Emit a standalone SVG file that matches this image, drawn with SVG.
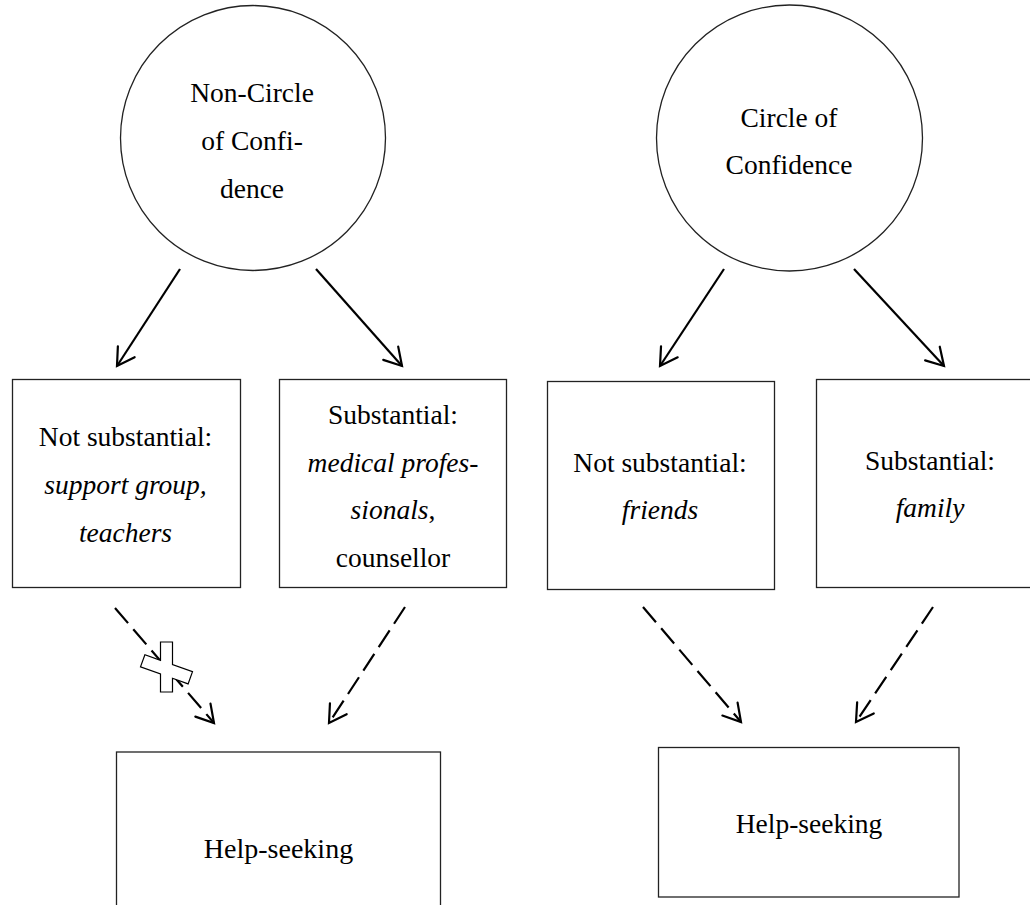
<svg xmlns="http://www.w3.org/2000/svg" width="1030" height="905" viewBox="0 0 1030 905">
<defs>
<marker id="arr" markerUnits="userSpaceOnUse" markerWidth="40" markerHeight="40" viewBox="-20 -20 40 40" refX="0" refY="0" orient="auto">
<path d="M-17,-10 L0,0 L-17,10" fill="none" stroke="#000" stroke-width="2.2" stroke-linecap="round" stroke-linejoin="miter"/>
</marker>
</defs>
<style>
.shape{fill:#fff;stroke:#222;stroke-width:1.3}
.t{font-family:"Liberation Serif","Times New Roman",serif;font-size:27.5px;fill:#000;text-anchor:middle}
.i{font-style:italic}
.solid{stroke:#000;stroke-width:2.2;fill:none;marker-end:url(#arr)}
.dash{stroke:#000;stroke-width:2.2;fill:none;stroke-dasharray:20 8;marker-end:url(#arr)}
</style>
<rect width="1030" height="905" fill="#fff"/>
<g id="connectors">
<line class="solid" x1="180" y1="269" x2="117" y2="366"/>
<line class="solid" x1="316" y1="269" x2="402" y2="366"/>
<line class="solid" x1="724" y1="269" x2="660" y2="366"/>
<line class="solid" x1="854" y1="269" x2="944" y2="366"/>
<line class="dash" x1="115" y1="608" x2="214" y2="723"/>
<line class="dash" x1="405" y1="607" x2="329" y2="723"/>
<line class="dash" x1="643" y1="607" x2="741" y2="722"/>
<line class="dash" x1="933" y1="607" x2="856" y2="722"/>
<polygon id="cross" points="160.5,642 172.5,642 172.5,664.5 192.5,671.7 188.1,683.9 172.5,678.3 172.5,692 160.5,692 160.5,674 140.5,666.9 144.9,654.7 160.5,660.3" fill="#fff" stroke="#000" stroke-width="1.2"/>
</g>
<g id="non-circle">
<circle class="shape" cx="253" cy="138" r="132.5"/>
<text class="t" x="252" y="102">Non-Circle</text>
<text class="t" x="252" y="150">of Confi-</text>
<text class="t" x="252" y="198">dence</text>
</g>
<g id="circle">
<circle class="shape" cx="789.5" cy="138" r="133"/>
<text class="t" x="789" y="127">Circle of</text>
<text class="t" x="789" y="174">Confidence</text>
</g>
<g id="ncc-not">
<rect class="shape" x="12.5" y="379.5" width="228" height="208"/>
<text class="t" x="125.5" y="446">Not substantial:</text>
<text class="t i" x="125.5" y="493.5">support group,</text>
<text class="t i" x="125.5" y="541.5">teachers</text>
</g>
<g id="ncc-sub">
<rect class="shape" x="279.5" y="379.5" width="227" height="208"/>
<text class="t" x="393" y="424">Substantial:</text>
<text class="t i" x="393" y="471.5">medical profes-</text>
<text class="t" x="393" y="519"><tspan class="i">sionals</tspan>,</text>
<text class="t" x="393" y="566.5">counsellor</text>
</g>
<g id="cc-not">
<rect class="shape" x="547.5" y="381.5" width="227" height="208"/>
<text class="t" x="660" y="471.5">Not substantial:</text>
<text class="t i" x="660" y="518.5">friends</text>
</g>
<g id="cc-sub">
<rect class="shape" x="816.5" y="379.5" width="228" height="208"/>
<text class="t" x="930" y="469.5">Substantial:</text>
<text class="t i" x="930" y="516.5">family</text>
</g>
<g id="help-left">
<rect class="shape" x="116.5" y="752" width="324" height="170"/>
<text class="t" x="278.5" y="858" style="font-size:28px">Help-seeking</text>
</g>
<g id="help-right">
<rect class="shape" x="658.5" y="747.5" width="300.5" height="149.5"/>
<text class="t" x="809" y="833">Help-seeking</text>
</g>
</svg>
